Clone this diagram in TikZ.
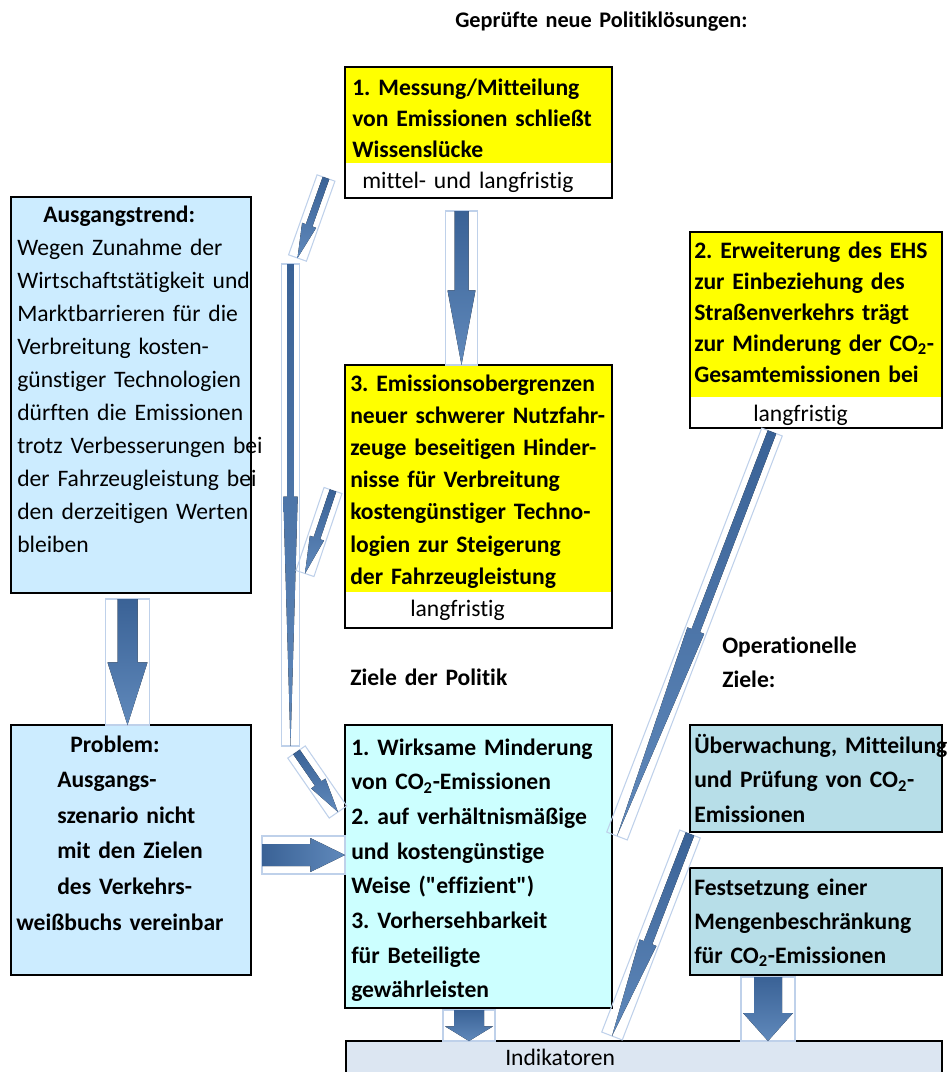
\documentclass[tikz,border=0pt]{standalone}
\usepackage{fontspec}
\setmainfont{Carlito}[Ligatures=NoCommon]
\usepackage{tikz}
\usetikzlibrary{calc}
\frenchspacing
\definecolor{solyellow}{HTML}{FFFF00}
\definecolor{trendblue}{HTML}{CCECFF}
\definecolor{goalcyan}{HTML}{CCFFFF}
\definecolor{opblue}{HTML}{B7DEE8}
\definecolor{indicgray}{HTML}{DCE6F2}
\definecolor{arrowdark}{HTML}{3A6296}
\definecolor{arrowlight}{HTML}{6089BB}
\definecolor{arrowframe}{HTML}{BFD1EA}
\tikzset{
  boxline/.style={draw=black,line width=2.2pt},
  areabox/.style={anchor=north west,inner sep=0pt,outer sep=0pt},
  plaintext/.style={anchor=base west,inner sep=0pt,align=left,text width=11cm,
    font=\fontsize{17.7}{#1}\selectfont},
  plaintext/.default=24pt,
  boldtext/.style={plaintext=#1,font=\fontsize{17.7}{#1}\selectfont\bfseries},
  boldtext/.default=24pt,
  flowfill/.style={top color=arrowdark,bottom color=arrowlight},
  flowframe/.style={draw=arrowframe,line width=0.8pt}
}
\newcommand{\blockarrow}[6][flowfill]{%
  \coordinate (ba-c) at ($(#3)!#6!(#2)$);
  \draw[flowframe] ($(#2)!#5+1.5pt!90:(#3)$) -- ($(#3)!#5+1.5pt!-90:(#2)$)
    -- ($(#3)!#5+1.5pt!90:(#2)$) -- ($(#2)!#5+1.5pt!-90:(#3)$) -- cycle;
  \fill[#1] ($(#2)!#4!90:(#3)$) -- ($(ba-c)!#4!90:(#3)$) -- ($(ba-c)!#5!90:(#3)$)
    -- (#3) -- ($(ba-c)!#5!-90:(#3)$) -- ($(ba-c)!#4!-90:(#3)$)
    -- ($(#2)!#4!-90:(#3)$) -- cycle;
}

\begin{document}
\begin{tikzpicture}[x=0.75pt,y=-0.75pt]
\useasboundingbox (0,0) rectangle (952,1072);
\node[boldtext,font=\fontsize{16.7}{24}\selectfont\bfseries] (title) at (455,27) {Geprüfte neue Politiklösungen:};

\node[areabox,fill=solyellow,minimum width=200.25pt,minimum height=72pt] (sol1) at (345,67) {};
\node[areabox,minimum width=200.25pt,minimum height=26.25pt] (sol1t) at (sol1.south west) {};
\draw[boxline] (sol1.north west) rectangle (sol1t.south east);
\node[boldtext=23.25pt] (sol1text) at (352,95)
  {1. Messung/Mitteilung\\von Emissionen schließt\\Wissenslücke};
\node[plaintext] (sol1term) at (362,188) {mittel- und langfristig};

\node[areabox,fill=solyellow,minimum width=189pt,minimum height=123.75pt] (sol2) at (690,232) {};
\node[areabox,minimum width=189pt,minimum height=23.25pt] (sol2t) at (sol2.south west) {};
\draw[boxline] (sol2.north west) rectangle (sol2t.south east);
\node[boldtext=23.25pt] (sol2text) at (694,258)
  {2. Erweiterung des EHS\\zur Einbeziehung des\\Straßenverkehrs trägt\\
   zur Minderung der CO\textsubscript{2}-\\Gesamtemissionen bei};
\node[plaintext] (sol2term) at (753,421) {langfristig};

\node[areabox,fill=solyellow,minimum width=200.25pt,minimum height=170.25pt] (sol3) at (345,365) {};
\node[areabox,minimum width=200.25pt,minimum height=27pt] (sol3t) at (sol3.south west) {};
\draw[boxline] (sol3.north west) rectangle (sol3t.south east);
\node[boldtext=24.15pt] (sol3text) at (350,391)
  {3. Emissionsobergrenzen\\neuer schwerer Nutzfahr-\\zeuge beseitigen Hinder-\\
   nisse für Verbreitung\\kostengünstiger Techno-\\logien zur Steigerung\\der Fahrzeugleistung};
\node[plaintext] (sol3term) at (410,616) {langfristig};

\node[areabox,boxline,fill=trendblue,minimum width=180pt,minimum height=297pt] (trend) at (11,197) {};
\node[plaintext=24.75pt] (trendtext) at (17,222)
  {\hspace*{19.5pt}\textbf{Ausgangstrend:}\\Wegen Zunahme der\\Wirtschaftstätigkeit und\\
   Marktbarrieren für die\\Verbreitung kosten-\\günstiger Technologien\\dürften die Emissionen\\
   trotz Verbesserungen bei\\der Fahrzeugleistung bei\\den derzeitigen Werten\\bleiben};

\node[areabox,boxline,fill=trendblue,minimum width=180pt,minimum height=187.5pt] (problem) at (11,725) {};
\node[boldtext=26.7pt] (problemtext) at (57,752)
  {\hspace*{9.75pt}Problem:\\Ausgangs-\\szenario nicht\\mit den Zielen\\des Verkehrs-\\
   \hspace*{-30.75pt}weißbuchs vereinbar};

\node[boldtext] (zielelabel) at (350,685) {Ziele der Politik};
\node[areabox,boxline,fill=goalcyan,minimum width=200.25pt,minimum height=212.25pt] (goals) at (345,725) {};
\node[boldtext=26pt] (goalstext) at (351,755)
  {1. Wirksame Minderung\\von CO\textsubscript{2}-Emissionen\\2. auf verhältnismäßige\\
   und kostengünstige\\Weise (\textquotedbl effizient\textquotedbl)\\3. Vorhersehbarkeit\\für Beteiligte\\gewährleisten};

\node[boldtext=25.5pt] (operlabel) at (722,653) {Operationelle\\Ziele:};
\node[areabox,boxline,fill=opblue,minimum width=189pt,minimum height=80.25pt] (monitor) at (690,725) {};
\node[boldtext=25.9pt] (monitortext) at (694,753)
  {Überwachung, Mitteilung\\und Prüfung von CO\textsubscript{2}-\\Emissionen};
\node[areabox,boxline,fill=opblue,minimum width=189pt,minimum height=80.25pt] (quota) at (690,868) {};
\node[boldtext=25.5pt] (quotatext) at (694,895)
  {Festsetzung einer\\Mengenbeschränkung\\für CO\textsubscript{2}-Emissionen};

\node[areabox,boxline,fill=indicgray,minimum width=447pt,minimum height=33pt] (indic) at (346,1041) {};
\node[plaintext] (indictext) at (505,1065) {Indikatoren};

\coordinate (m1s) at ($(sol1t.south)+(-17,13)$);
\coordinate (m1e) at (m1s |- sol3.north);
\blockarrow{m1s}{m1e}{5.25pt}{10.5pt}{56pt}
\coordinate (t1s) at ($(trend.south)+(-3.5,6)$);
\coordinate (t1e) at (t1s |- problem.north);
\blockarrow{t1s}{t1e}{7.5pt}{15pt}{47pt}
\coordinate (longtop) at (290.5,264);
\coordinate (longbot) at (290.5,746);
\coordinate (s1s) at ($(sol1t.south west)+(-19,-20)$);
\coordinate (s1e) at ($(longtop)+(7,-6)$);
\blockarrow{s1s}{s1e}{2.6pt}{5.6pt}{26pt}
\blockarrow{longtop}{longbot}{2.6pt}{5.4pt}{187pt}
\coordinate (s3s) at ($(sol3.west)+(-12,12)$);
\coordinate (s3e) at ($(sol3.west)+(-40,95)$);
\blockarrow{s3s}{s3e}{2.6pt}{5.6pt}{28pt}
\coordinate (g1s) at ($(longbot)+(6,6)$);
\coordinate (g1e) at ($(goals.north west)+(-7,87)$);
\blockarrow{g1s}{g1e}{3pt}{6.5pt}{26pt}
\coordinate (p1s) at ($(problem.east)+(11,5)$);
\coordinate (p1e) at (p1s -| goals.west);
\blockarrow[left color=arrowdark,right color=arrowlight]{p1s}{p1e}{8.25pt}{12.75pt}{26pt}
\coordinate (e1s) at ($(sol2t.south west)+(82,4)$);
\coordinate (e1e) at ($(goals.east)+(5,-30.5)$);
\blockarrow{e1s}{e1e}{3.4pt}{6.75pt}{165pt}
\coordinate (u1s) at ($(monitor.south west)+(0,2)$);
\coordinate (u1e) at ($(indic.north west)+(266,-5)$);
\blockarrow{u1s}{u1e}{3.4pt}{6.75pt}{75pt}
\coordinate (g2s) at ($(goals.south)+(-9.5,2)$);
\coordinate (g2e) at (g2s |- indic.north);
\blockarrow{g2s}{g2e}{11.25pt}{18pt}{11pt}
\coordinate (q1s) at ($(quota.south)+(-48,2)$);
\coordinate (q1e) at (q1s |- indic.north);
\blockarrow{q1s}{q1e}{10.5pt}{18.75pt}{21pt}
\end{tikzpicture}
\end{document}
